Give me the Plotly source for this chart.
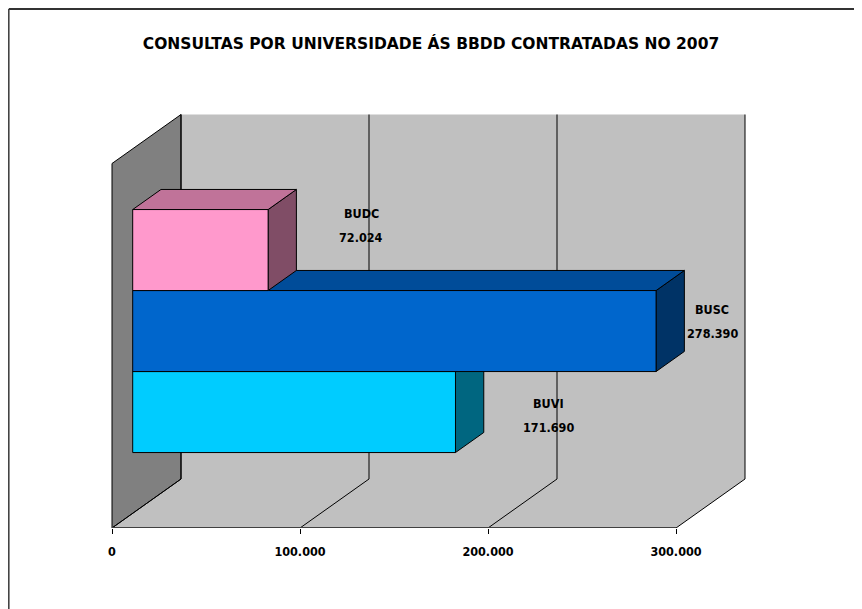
import plotly.graph_objects as go

# ---------------- data ----------------
categories = ["BUDC", "BUSC", "BUVI"]
values = [72024, 278390, 171690]
value_labels = ["72.024", "278.390", "171.690"]
tick_vals = [0, 100000, 200000, 300000]
tick_text = ["0", "100.000", "200.000", "300.000"]
title = "CONSULTAS POR UNIVERSIDADE ÁS BBDD CONTRATADAS NO 2007"

# ---------------- style / geometry ----------------
W, Hpx = 862, 609
PX_PER_VAL = 188 / 100000.0        # horizontal scale
X0_PX = 104                        # figure pixel of value 0 on the front edge
BAR_PX = 81                        # pixel height of one bar (1 y unit)
FLOOR_PX = 520                     # figure pixel of the front floor edge
DEPTH_PX = (69, 49)                # oblique depth offset in pixels
D_FRONT, D_BACK = 0.30, 0.71       # bar depth span (fraction of depth)
GAP = 1.5                          # gap width (in bar units)
XMAX = tick_vals[-1]

DX = DEPTH_PX[0] / PX_PER_VAL
DY = DEPTH_PX[1] / BAR_PX
NS = len(values)
HWALL = NS + GAP

front_col = {"BUDC": "#FF99CC", "BUSC": "#0066CC", "BUVI": "#00CCFF"}
top_col = {"BUDC": "#C07399", "BUSC": "#004C99", "BUVI": "#0099BF"}
side_col = {"BUDC": "#804D66", "BUSC": "#003366", "BUVI": "#006680"}
label_shift = {"BUDC": (93, 25), "BUSC": (56, 10), "BUVI": (93, -3)}

x_range = [-X0_PX / PX_PER_VAL, (W - X0_PX) / PX_PER_VAL]
y_range = [0, FLOOR_PX / BAR_PX]


def P(v, y, d):
    return v + d * DX, y + d * DY


def poly(pts, fill, line_color="black", line_width=1):
    xs = [p[0] for p in pts] + [pts[0][0]]
    ys = [p[1] for p in pts] + [pts[0][1]]
    return go.Scatter(
        x=xs, y=ys, mode="lines", fill="toself", fillcolor=fill,
        line=dict(color=line_color, width=line_width),
        hoverinfo="skip", showlegend=False,
    )


fig = go.Figure()

# back wall
fig.add_trace(poly([P(0, 0, 1), P(XMAX, 0, 1), P(XMAX, HWALL, 1), P(0, HWALL, 1)],
                   "#C0C0C0", "rgba(0,0,0,0)", 0))
# floor
fig.add_trace(poly([P(0, 0, 0), P(XMAX, 0, 0), P(XMAX, 0, 1), P(0, 0, 1)],
                   "#C0C0C0", "rgba(0,0,0,0)", 0))
# left wall
fig.add_trace(poly([P(0, 0, 0), P(0, 0, 1), P(0, HWALL, 1), P(0, HWALL, 0)],
                   "#808080", "black", 1))

# gridlines (floor diagonal + back wall vertical)
gx, gy = [], []
for t in tick_vals:
    for p in (P(t, 0, 0), P(t, 0, 1), P(t, HWALL, 1)):
        gx.append(p[0]); gy.append(p[1])
    gx.append(None); gy.append(None)
fig.add_trace(go.Scatter(x=gx, y=gy, mode="lines", line=dict(color="black", width=1),
                         hoverinfo="skip", showlegend=False))

# front floor edge
fe = [P(0, 0, 0), P(XMAX, 0, 0)]
fig.add_trace(go.Scatter(x=[p[0] for p in fe], y=[p[1] for p in fe], mode="lines",
                         line=dict(color="#404040", width=2),
                         hoverinfo="skip", showlegend=False))

lab_font = dict(family="DejaVu Sans Condensed, DejaVu Sans", size=12.5, color="black",
                weight="bold")

# bars: bottom slot first (last category at the bottom)
for slot, idx in enumerate(reversed(range(NS))):
    name = categories[idx]
    v = values[idx]
    yb = GAP / 2 + slot
    yt = yb + 1
    # right face
    fig.add_trace(poly([P(v, yb, D_FRONT), P(v, yt, D_FRONT), P(v, yt, D_BACK), P(v, yb, D_BACK)],
                       side_col[name]))
    # top face
    fig.add_trace(poly([P(0, yt, D_FRONT), P(v, yt, D_FRONT), P(v, yt, D_BACK), P(0, yt, D_BACK)],
                       top_col[name]))
    # front face
    fig.add_trace(poly([P(0, yb, D_FRONT), P(v, yb, D_FRONT), P(v, yt, D_FRONT), P(0, yt, D_FRONT)],
                       front_col[name]))
    # labels
    lx, ly = P(v, (yb + yt) / 2, D_FRONT)
    sx, sy = label_shift[name]
    fig.add_annotation(x=lx, y=ly, xref="x", yref="y", text=name, showarrow=False,
                       xshift=sx, yshift=sy + 12, font=lab_font)
    fig.add_annotation(x=lx, y=ly, xref="x", yref="y", text=value_labels[idx], showarrow=False,
                       xshift=sx, yshift=sy - 12, font=lab_font)


# chart border (left and top)
def pyp(py):
    return (FLOOR_PX - py) / FLOOR_PX


fig.add_shape(type="line", xref="paper", yref="paper", x0=0.8 / W, x1=0.8 / W,
              y0=pyp(1), y1=pyp(Hpx + 5), line=dict(color="#444444", width=1.6))
fig.add_shape(type="line", xref="paper", yref="paper", x0=0.8 / W, x1=1.02,
              y0=pyp(1), y1=pyp(1), line=dict(color="#333333", width=1.8))

fig.update_layout(
    width=W, height=Hpx,
    margin=dict(l=0, r=0, t=0, b=Hpx - FLOOR_PX),
    paper_bgcolor="white", plot_bgcolor="white",
    showlegend=False,
    title=dict(text=title, x=423 / W, xanchor="center", xref="container",
               y=1 - 36 / Hpx, yanchor="middle", yref="container",
               font=dict(family="DejaVu Sans", size=15.5, color="black", weight="bold")),
    xaxis=dict(range=x_range, tickvals=tick_vals, ticktext=tick_text,
               showgrid=False, zeroline=False, showline=False,
               ticks="outside", ticklen=5, tickcolor="black", tickwidth=1,
               ticklabelstandoff=7,
               tickfont=lab_font,
               fixedrange=True),
    yaxis=dict(range=y_range, visible=False, fixedrange=True),
)

fig.write_html("out.html")
